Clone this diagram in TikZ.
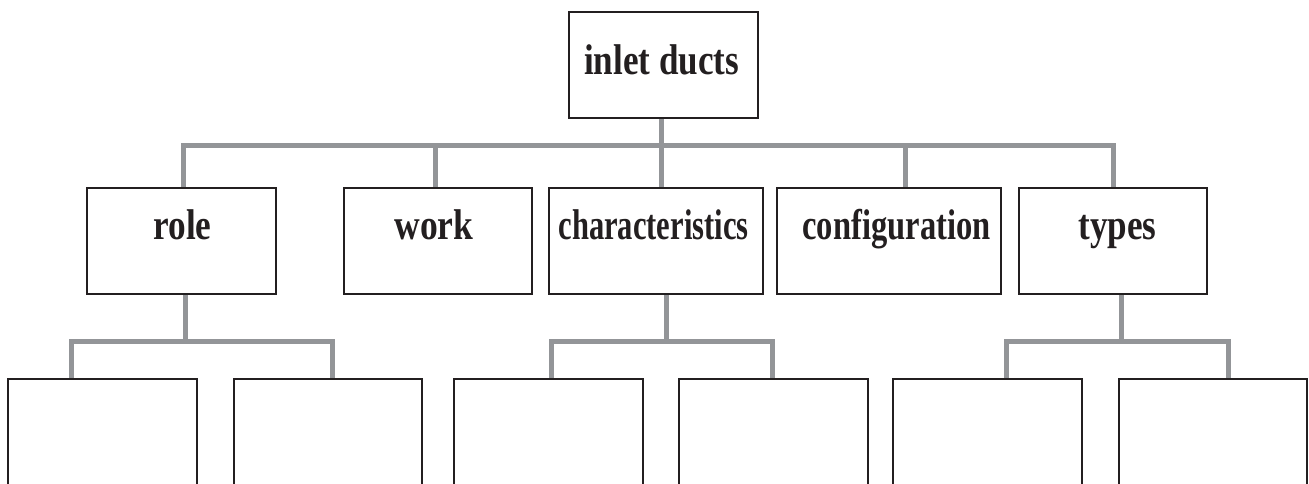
\documentclass[tikz,border=0pt]{standalone}
\usepackage{fontspec}
\setmainfont{Liberation Serif}
\usepackage{graphicx}
\usetikzlibrary{backgrounds}
\definecolor{conngray}{RGB}{147,149,152}
\definecolor{boxline}{RGB}{35,31,32}
\newcommand\fitw[2]{\resizebox{#1}{\height}{#2}}
\begin{document}
\begin{tikzpicture}[x=1pt,y=-1pt,
  box/.style={draw=boxline,line width=1.8pt,fill=white,inner sep=0pt,minimum width=#1,minimum height=106pt},
  box/.default=189pt,
  leaf/.style={draw=boxline,line width=1.8pt,fill=white,inner sep=0pt,minimum width=#1,minimum height=148pt},
  leaf/.default=189pt,
  lbl/.style={inner sep=0pt,anchor=base,text=boxline,font=\fontsize{43}{47}\selectfont\bfseries},
  conn/.style={draw=conngray,line width=5pt}]
\useasboundingbox (0,0) rectangle (1309,483);
\clip (0,0) rectangle (1309,483);
% level 0
\node[box=189.2pt,minimum height=106.2pt] (top) at (663.5,65) {};
% level 1
\node[box=189pt] (role) at (181.5,241) {};
\node[box=188pt] (work) at (438,241) {};
\node[box=214pt] (char) at (656,241) {};
\node[box=224pt] (config) at (889,241) {};
\node[box=188pt] (types) at (1113,241) {};
% level 2
\node[leaf=189pt] (c1) at (102.5,453) {};
\node[leaf=188pt] (c2) at (328,453) {};
\node[leaf=189pt] (c3) at (548.5,453) {};
\node[leaf=189pt] (c4) at (773.5,453) {};
\node[leaf=189pt] (c5) at (987.5,453) {};
\node[leaf=188pt] (c6) at (1213,453) {};
% labels
\node[lbl] (topT) at (661.5,74.5) {\fitw{155pt}{inlet ducts}};
\node[lbl] (roleT) at (182.5,239.5) {\fitw{58pt}{role}};
\node[lbl] (workT) at (434,239.5) {\fitw{79pt}{work}};
\node[lbl] (charT) at (653.5,239.5) {\fitw{190pt}{characteristics}};
\node[lbl] (configT) at (896.5,239.5) {\fitw{188pt}{configuration}};
\node[lbl] (typesT) at (1117.5,239.5) {\fitw{78pt}{types}};
% connectors
\begin{scope}[on background layer]
\coordinate (tj) at (661,145);
\coordinate (tL) at (183,145);
\coordinate (tR) at (1113,145);
\coordinate (tw) at (435,145);
\coordinate (tg) at (905,145);
\draw[conn] (tj |- top.south) -- (tj) -- (tj |- char.north);
\draw[conn] (tL |- role.north) -- (tL) -- (tR) -- (tR |- types.north);
\draw[conn] (tw) -- (tw |- work.north);
\draw[conn] (tg) -- (tg |- config.north);
% role children
\coordinate (rj) at (185,341);
\coordinate (rL) at (71,341);
\coordinate (rR) at (332,341);
\draw[conn] (rj |- role.south) -- (rj);
\draw[conn] (rL |- c1.north) -- (rL) -- (rR) -- (rR |- c2.north);
% characteristics children
\coordinate (cj) at (666,341);
\coordinate (cL) at (551,341);
\coordinate (cR) at (772,341);
\draw[conn] (cj |- char.south) -- (cj);
\draw[conn] (cL |- c3.north) -- (cL) -- (cR) -- (cR |- c4.north);
% types children
\coordinate (yj) at (1121,341);
\coordinate (yL) at (1006,341);
\coordinate (yR) at (1228,341);
\draw[conn] (yj |- types.south) -- (yj);
\draw[conn] (yL |- c5.north) -- (yL) -- (yR) -- (yR |- c6.north);
\end{scope}
\end{tikzpicture}
\end{document}
